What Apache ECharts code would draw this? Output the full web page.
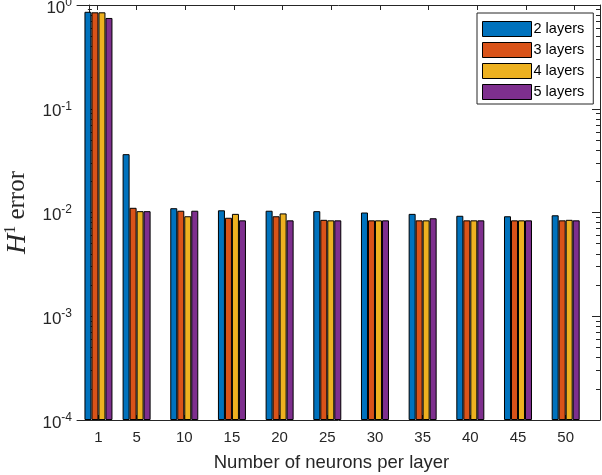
<!DOCTYPE html>
<html><head><meta charset="utf-8">
<script src="https://cdn.jsdelivr.net/npm/echarts@6/dist/echarts.min.js"></script>
<style>html,body{margin:0;padding:0;background:#fff}#c{width:602px;height:475px}</style>
</head><body><div id="c"></div>
<script>
const neurons = [1, 5, 10, 15, 20, 25, 30, 35, 40, 45, 50];
const layers2 = [0.86, 0.0365, 0.0110, 0.0105, 0.0104, 0.0103, 0.0100, 0.0097, 0.0093, 0.0092, 0.0094];
const layers3 = [0.85, 0.0111, 0.0104, 0.0089, 0.0092, 0.0085, 0.0084, 0.0084, 0.0084, 0.0084, 0.0084];
const layers4 = [0.85, 0.0103, 0.0092, 0.0097, 0.0098, 0.0084, 0.0084, 0.0084, 0.0084, 0.0084, 0.0085];
const layers5 = [0.75, 0.0103, 0.0104, 0.0084, 0.0084, 0.0084, 0.0084, 0.0088, 0.0084, 0.0084, 0.0084];
const seriesNames = ['2 layers', '3 layers', '4 layers', '5 layers'];
const seriesValues = [layers2, layers3, layers4, layers5];
const colors = ['#0072BD', '#D95319', '#EDB120', '#7E2F8E'];
const xLabel = 'Number of neurons per layer';
const minorTicks = [];
for (let d = -4; d <= -1; d++) for (let m = 1; m <= 9; m++) minorTicks.push(m * Math.pow(10, d));
minorTicks.push(1);

const FONT = 'Liberation Sans';
const TXT = '#262626';
const chart = echarts.init(document.getElementById('c'));

const baseY = {
  type: 'log', logBase: 10, min: 1e-4, max: 1, interval: 1, offset: 0,
  splitLine: { show: false },
  axisLine: { show: true, lineStyle: { color: TXT, width: 1 } }
};

chart.setOption({
  animation: false,
  color: colors,
  grid: { left: 77, right: 2, top: 5, bottom: 55, containLabel: false, outerBoundsMode: 'none' },
  legend: {
    orient: 'vertical', left: 477, top: 13,
    data: seriesNames,
    itemWidth: 49, itemHeight: 15, itemGap: 5,
    padding: [8, 9, 4, 5],
    borderColor: '#262626', borderWidth: 1, backgroundColor: '#fff',
    textStyle: { fontFamily: FONT, fontSize: 14.5, lineHeight: 15, color: '#000', padding: [0, 0, 0, -3] },
    itemStyle: { borderColor: '#000', borderWidth: 1 },
    icon: 'rect'
  },
  xAxis: [
    {
      type: 'value', min: -1.25, max: 53.6, position: 'bottom',
      splitLine: { show: false },
      axisLine: { lineStyle: { color: TXT } },
      axisTick: { inside: true, length: 5, customValues: neurons, lineStyle: { color: TXT } },
      axisLabel: { customValues: neurons, fontFamily: FONT, fontSize: 15, color: TXT, margin: 10 },
      name: xLabel, nameLocation: 'middle', nameGap: 33,
      nameTextStyle: { fontFamily: FONT, fontSize: 18.5, color: TXT, padding: [0, 14, 0, 0] }
    },
    {
      type: 'value', min: -1.12, max: 52.6, position: 'top',
      splitLine: { show: false },
      axisLine: { show: true, lineStyle: { color: TXT } },
      axisTick: { inside: true, length: 5, customValues: neurons, lineStyle: { color: TXT } },
      axisLabel: { show: false }
    }
  ],
  yAxis: [
    Object.assign({}, baseY, {
      position: 'left', startValue: 1e-4,
      axisTick: { inside: true, length: 8, lineStyle: { color: TXT } },
      axisLabel: {
        fontFamily: FONT, color: TXT, margin: 5, padding: [6, 0, 0, 0],
        formatter: v => '{b|10}{s|' + Math.round(Math.log10(v)) + '}',
        rich: {
          b: { fontFamily: FONT, fontSize: 17, color: TXT },
          s: { fontFamily: FONT, fontSize: 12, color: TXT, padding: [0, 0, 11, 0] }
        }
      },
      name: '{i|H}{s|1}{t| error}', nameLocation: 'middle', nameGap: 38, nameRotate: 90,
      nameTextStyle: {
        rich: {
          i: { fontFamily: 'Liberation Serif', fontStyle: 'italic', fontSize: 28, color: TXT },
          s: { fontFamily: 'Liberation Serif', fontSize: 16, color: TXT, padding: [0, 0, 14, 0] },
          t: { fontFamily: 'Liberation Serif', fontSize: 25, color: TXT }
        }
      }
    }),
    Object.assign({}, baseY, {
      position: 'left', axisLine: { show: false },
      axisTick: { inside: true, length: 4, customValues: minorTicks, lineStyle: { color: TXT } },
      axisLabel: { show: false }
    }),
    Object.assign({}, baseY, {
      position: 'right',
      axisTick: { inside: true, length: 8, lineStyle: { color: TXT } },
      axisLabel: { show: false }
    }),
    Object.assign({}, baseY, {
      position: 'right', axisLine: { show: false },
      axisTick: { inside: true, length: 4, customValues: minorTicks, lineStyle: { color: TXT } },
      axisLabel: { show: false }
    })
  ],
  series: seriesNames.map((name, i) => ({
    name: name, type: 'bar', xAxisIndex: 0, yAxisIndex: 0,
    barWidth: 7, barGap: '0%',
    itemStyle: { color: colors[i], borderColor: '#000', borderWidth: 1 },
    data: neurons.map((n, j) => [n, seriesValues[i][j]])
  }))
});
</script></body></html>
